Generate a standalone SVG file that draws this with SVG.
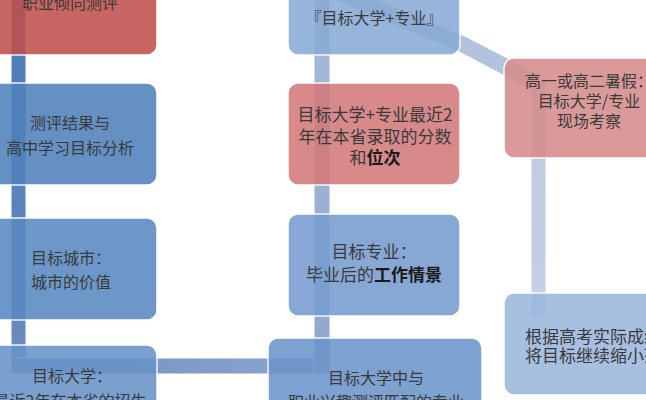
<svg xmlns="http://www.w3.org/2000/svg" width="646" height="400" viewBox="0 0 646 400">
  <defs>
    <linearGradient id="gL" gradientUnits="userSpaceOnUse" x1="0" y1="0" x2="0" y2="370">
      <stop offset="0" stop-color="#4a7ab7"/>
      <stop offset="1" stop-color="#6a8bc0"/>
    </linearGradient>
    <linearGradient id="gB" gradientUnits="userSpaceOnUse" x1="11" y1="0" x2="330" y2="0">
      <stop offset="0" stop-color="#6c8dc1"/>
      <stop offset="1" stop-color="#8da6cf"/>
    </linearGradient>
    <linearGradient id="gM" gradientUnits="userSpaceOnUse" x1="0" y1="374" x2="0" y2="0">
      <stop offset="0" stop-color="#8ea6ce"/>
      <stop offset="1" stop-color="#a9bad9"/>
    </linearGradient>
    <linearGradient id="gR" gradientUnits="userSpaceOnUse" x1="0" y1="80" x2="0" y2="318">
      <stop offset="0" stop-color="#bccae0"/>
      <stop offset="1" stop-color="#c4d0e4"/>
    </linearGradient>
  </defs>
  <style>
    .bar { stroke: #ffffff; stroke-width: 1; }
    .node rect { stroke: #ffffff; stroke-width: 1.5; opacity: 0.88; }
    text { font-family: "Noto Sans CJK SC", "Noto Sans", sans-serif; fill: #3a3a3a; text-anchor: middle; dominant-baseline: central; }
    .s16 { font-size: 16px; }
    .s17 { font-size: 17px; }
    .b { font-weight: bold; fill: #1a1a1a; }
  </style>

  <g id="connectors">
    <rect class="bar" x="11" y="-30" width="15" height="404" fill="url(#gL)"/>
    <rect class="bar" x="11" y="358" width="319" height="16" fill="url(#gB)"/>
    <rect class="bar" x="314" y="-30" width="16" height="404" fill="url(#gM)"/>
    <path d="M318,-16 L462,44 L538.5,84" fill="none" stroke="#ffffff" stroke-width="18"/>
    <path d="M318,-16 L462,44 L538.5,84" fill="none" stroke="#b3c2dd" stroke-width="16"/>
    <rect class="bar" x="531" y="80" width="15" height="238" fill="url(#gR)"/>
  </g>

  <g id="node-l1" class="node">
    <rect x="-17" y="-47" width="174" height="102" rx="10" fill="#c0504d"/>
    <text class="s16" x="70" y="2">职业倾向测评</text>
  </g>
  <g id="node-l2" class="node">
    <rect x="-17" y="83" width="174" height="102" rx="10" fill="#4f81bd"/>
    <text class="s16" x="70" y="122">测评结果与</text>
    <text class="s16" x="70" y="147">高中学习目标分析</text>
  </g>
  <g id="node-l3" class="node">
    <rect x="-17" y="218" width="174" height="102" rx="10" fill="#5989c2"/>
    <text class="s16" x="71" y="257">目标城市：</text>
    <text class="s16" x="71" y="281">城市的价值</text>
  </g>
  <g id="node-l4" class="node">
    <rect x="-17" y="345" width="174" height="102" rx="10" fill="#6994c9"/>
    <text class="s16" x="72" y="375">目标大学：</text>
    <text class="s16" x="70" y="400">最近2年在本省的招生</text>
  </g>

  <g id="node-m1" class="node">
    <rect x="288" y="-47" width="172" height="102" rx="10" fill="#89abd5"/>
    <text class="s16" x="374" y="17">『目标大学+专业』</text>
  </g>
  <g id="node-m2" class="node">
    <rect x="288" y="83" width="172" height="102" rx="10" fill="#d37a7a"/>
    <text class="s17" x="375" y="113">目标大学+专业最近2</text>
    <text class="s17" x="375" y="135">年在本省录取的分数</text>
    <text class="s17" x="375" y="156">和<tspan class="b">位次</tspan></text>
  </g>
  <g id="node-m3" class="node">
    <rect x="288" y="214" width="172" height="102" rx="10" fill="#779dcf"/>
    <text class="s17" x="374" y="250">目标专业：</text>
    <text class="s17" x="374" y="273">毕业后的<tspan class="b">工作情景</tspan></text>
  </g>
  <g id="node-m4" class="node">
    <rect x="268" y="338" width="214" height="102" rx="10" fill="#6c95ca"/>
    <text class="s16" x="376" y="377">目标大学中与</text>
    <text class="s16" x="376" y="401">职业兴趣测评匹配的专业</text>
  </g>

  <g id="node-r1" class="node">
    <rect x="504" y="58" width="172" height="100" rx="10" fill="#d78d8d"/>
    <text class="s16" x="589" y="80">高一或高二暑假：</text>
    <text class="s16" x="589" y="100">目标大学/专业</text>
    <text class="s16" x="589" y="120">现场考察</text>
  </g>
  <g id="node-r2" class="node">
    <rect x="504" y="293" width="190" height="102" rx="10" fill="#9bb7dd"/>
    <text class="s17" x="525" y="335" style="text-anchor:start">根据高考实际成绩</text>
    <text class="s17" x="525" y="354" style="text-anchor:start">将目标继续缩小范</text>
  </g>
</svg>
